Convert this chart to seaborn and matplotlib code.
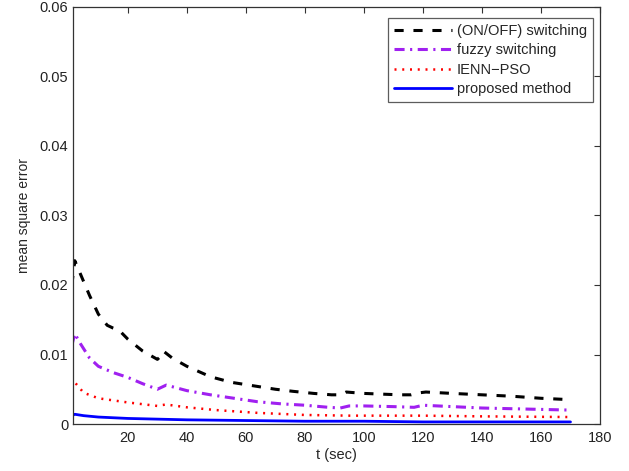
import numpy as np
import pandas as pd
import matplotlib
matplotlib.use("Agg")
import matplotlib.pyplot as plt
import seaborn as sns

# values
t_onoff = [1, 2, 4, 7, 10, 13, 15, 17, 20, 25, 30, 31, 32, 35, 40, 48, 55, 64, 70, 76,
           83, 89, 92, 94, 100, 106, 112, 116, 119, 121, 130, 140, 150, 160, 170]
mse_onoff = [0.0200, 0.0235, 0.0215, 0.0185, 0.0158, 0.0142, 0.0138, 0.0135, 0.0122, 0.0105,
             0.0093, 0.0097, 0.0105, 0.0095, 0.0083, 0.0068, 0.0060, 0.0054, 0.0050, 0.0047,
             0.0044, 0.0042, 0.0042, 0.0046, 0.0044, 0.0043, 0.0042, 0.0042, 0.0045, 0.0046,
             0.0044, 0.0042, 0.0040, 0.0037, 0.0035]

t_fuzzy = [1, 2, 4, 7, 10, 15, 20, 25, 30, 31, 33, 40, 48, 56, 64, 72, 80, 88, 92, 95,
           100, 110, 117, 120, 130, 140, 150, 160, 170]
mse_fuzzy = [0.0113, 0.0130, 0.0115, 0.0095, 0.0083, 0.0074, 0.0067, 0.0058, 0.0050, 0.0052,
             0.0056, 0.0048, 0.0042, 0.0037, 0.0032, 0.0029, 0.0027, 0.0024, 0.0023, 0.0026,
             0.0026, 0.0025, 0.0024, 0.0027, 0.0025, 0.0023, 0.0022, 0.0021, 0.0020]

t_ienn = [1, 2, 5, 10, 20, 30, 31, 33, 40, 50, 64, 80, 95, 100, 120, 140, 170]
mse_ienn = [0.0052, 0.0060, 0.0045, 0.0037, 0.0031, 0.0026, 0.0027, 0.0028, 0.0024, 0.0020,
            0.0016, 0.0013, 0.0012, 0.0012, 0.0012, 0.0011, 0.0010]

t_prop = [1, 2, 5, 10, 20, 30, 40, 60, 80, 100, 120, 140, 170]
mse_prop = [0.0012, 0.0014, 0.0012, 0.0010, 0.0008, 0.0007, 0.0006, 0.0005, 0.0004,
            0.0004, 0.0003, 0.0003, 0.0003]

labels = ["(ON/OFF) switching", "fuzzy switching", "IENN\u2212PSO", "proposed method"]

sns.set_style("white")
plt.rcParams['font.family'] = ['Liberation Sans', 'DejaVu Sans']

fig = plt.figure(figsize=(6.29, 4.71), dpi=100)
# axes box: x 73..600 px, y 7..424 px
ax = fig.add_axes([73 / 629, 47 / 471, 527 / 629, 417 / 471])

series = [(t_onoff, mse_onoff, 'black', (0, (3.0, 3.2)), 2.2),
          (t_fuzzy, mse_fuzzy, '#a020f0', (0, (3.3, 1.8, 0.7, 1.8)), 2.2),
          (t_ienn, mse_ienn, 'red', (0, (0.8, 2.3)), 1.8),
          (t_prop, mse_prop, 'blue', '-', 2.0)]

for (t, v, c, ls, lw), lab in zip(series, labels):
    df = pd.DataFrame({'t': t, 'mse': v})
    sns.lineplot(data=df, x='t', y='mse', ax=ax, color=c, linewidth=lw,
                 linestyle=ls, label=lab, sort=False, estimator=None)

ax.set_xlim(1.4, 180)
ax.set_ylim(0, 0.06)
ax.set_xticks(np.arange(20, 181, 20))
ax.set_yticks(np.arange(0, 0.061, 0.01))
ax.set_yticklabels(['0', '0.01', '0.02', '0.03', '0.04', '0.05', '0.06'])
ax.tick_params(direction='in', top=True, right=True, length=4, width=0.8,
               labelsize=10.5, colors='#333333', labelcolor='#222222')
ax.tick_params(axis='x', pad=5)
for sp in ax.spines.values():
    sp.set_color('#333333')
    sp.set_linewidth(0.9)
ax.set_xlabel('t (sec)', fontsize=10.5, labelpad=2)
ax.set_ylabel('mean square error', fontsize=10, labelpad=6)

leg = ax.legend(loc='upper right', bbox_to_anchor=(520 / 527, 406 / 417),
                borderaxespad=0, fontsize=10.5, frameon=True, fancybox=False,
                edgecolor='#333333', handlelength=4.0, handletextpad=0.35,
                borderpad=0.4, labelspacing=0.37)
leg.get_frame().set_linewidth(0.9)

fig.savefig('out.png', dpi=100)
